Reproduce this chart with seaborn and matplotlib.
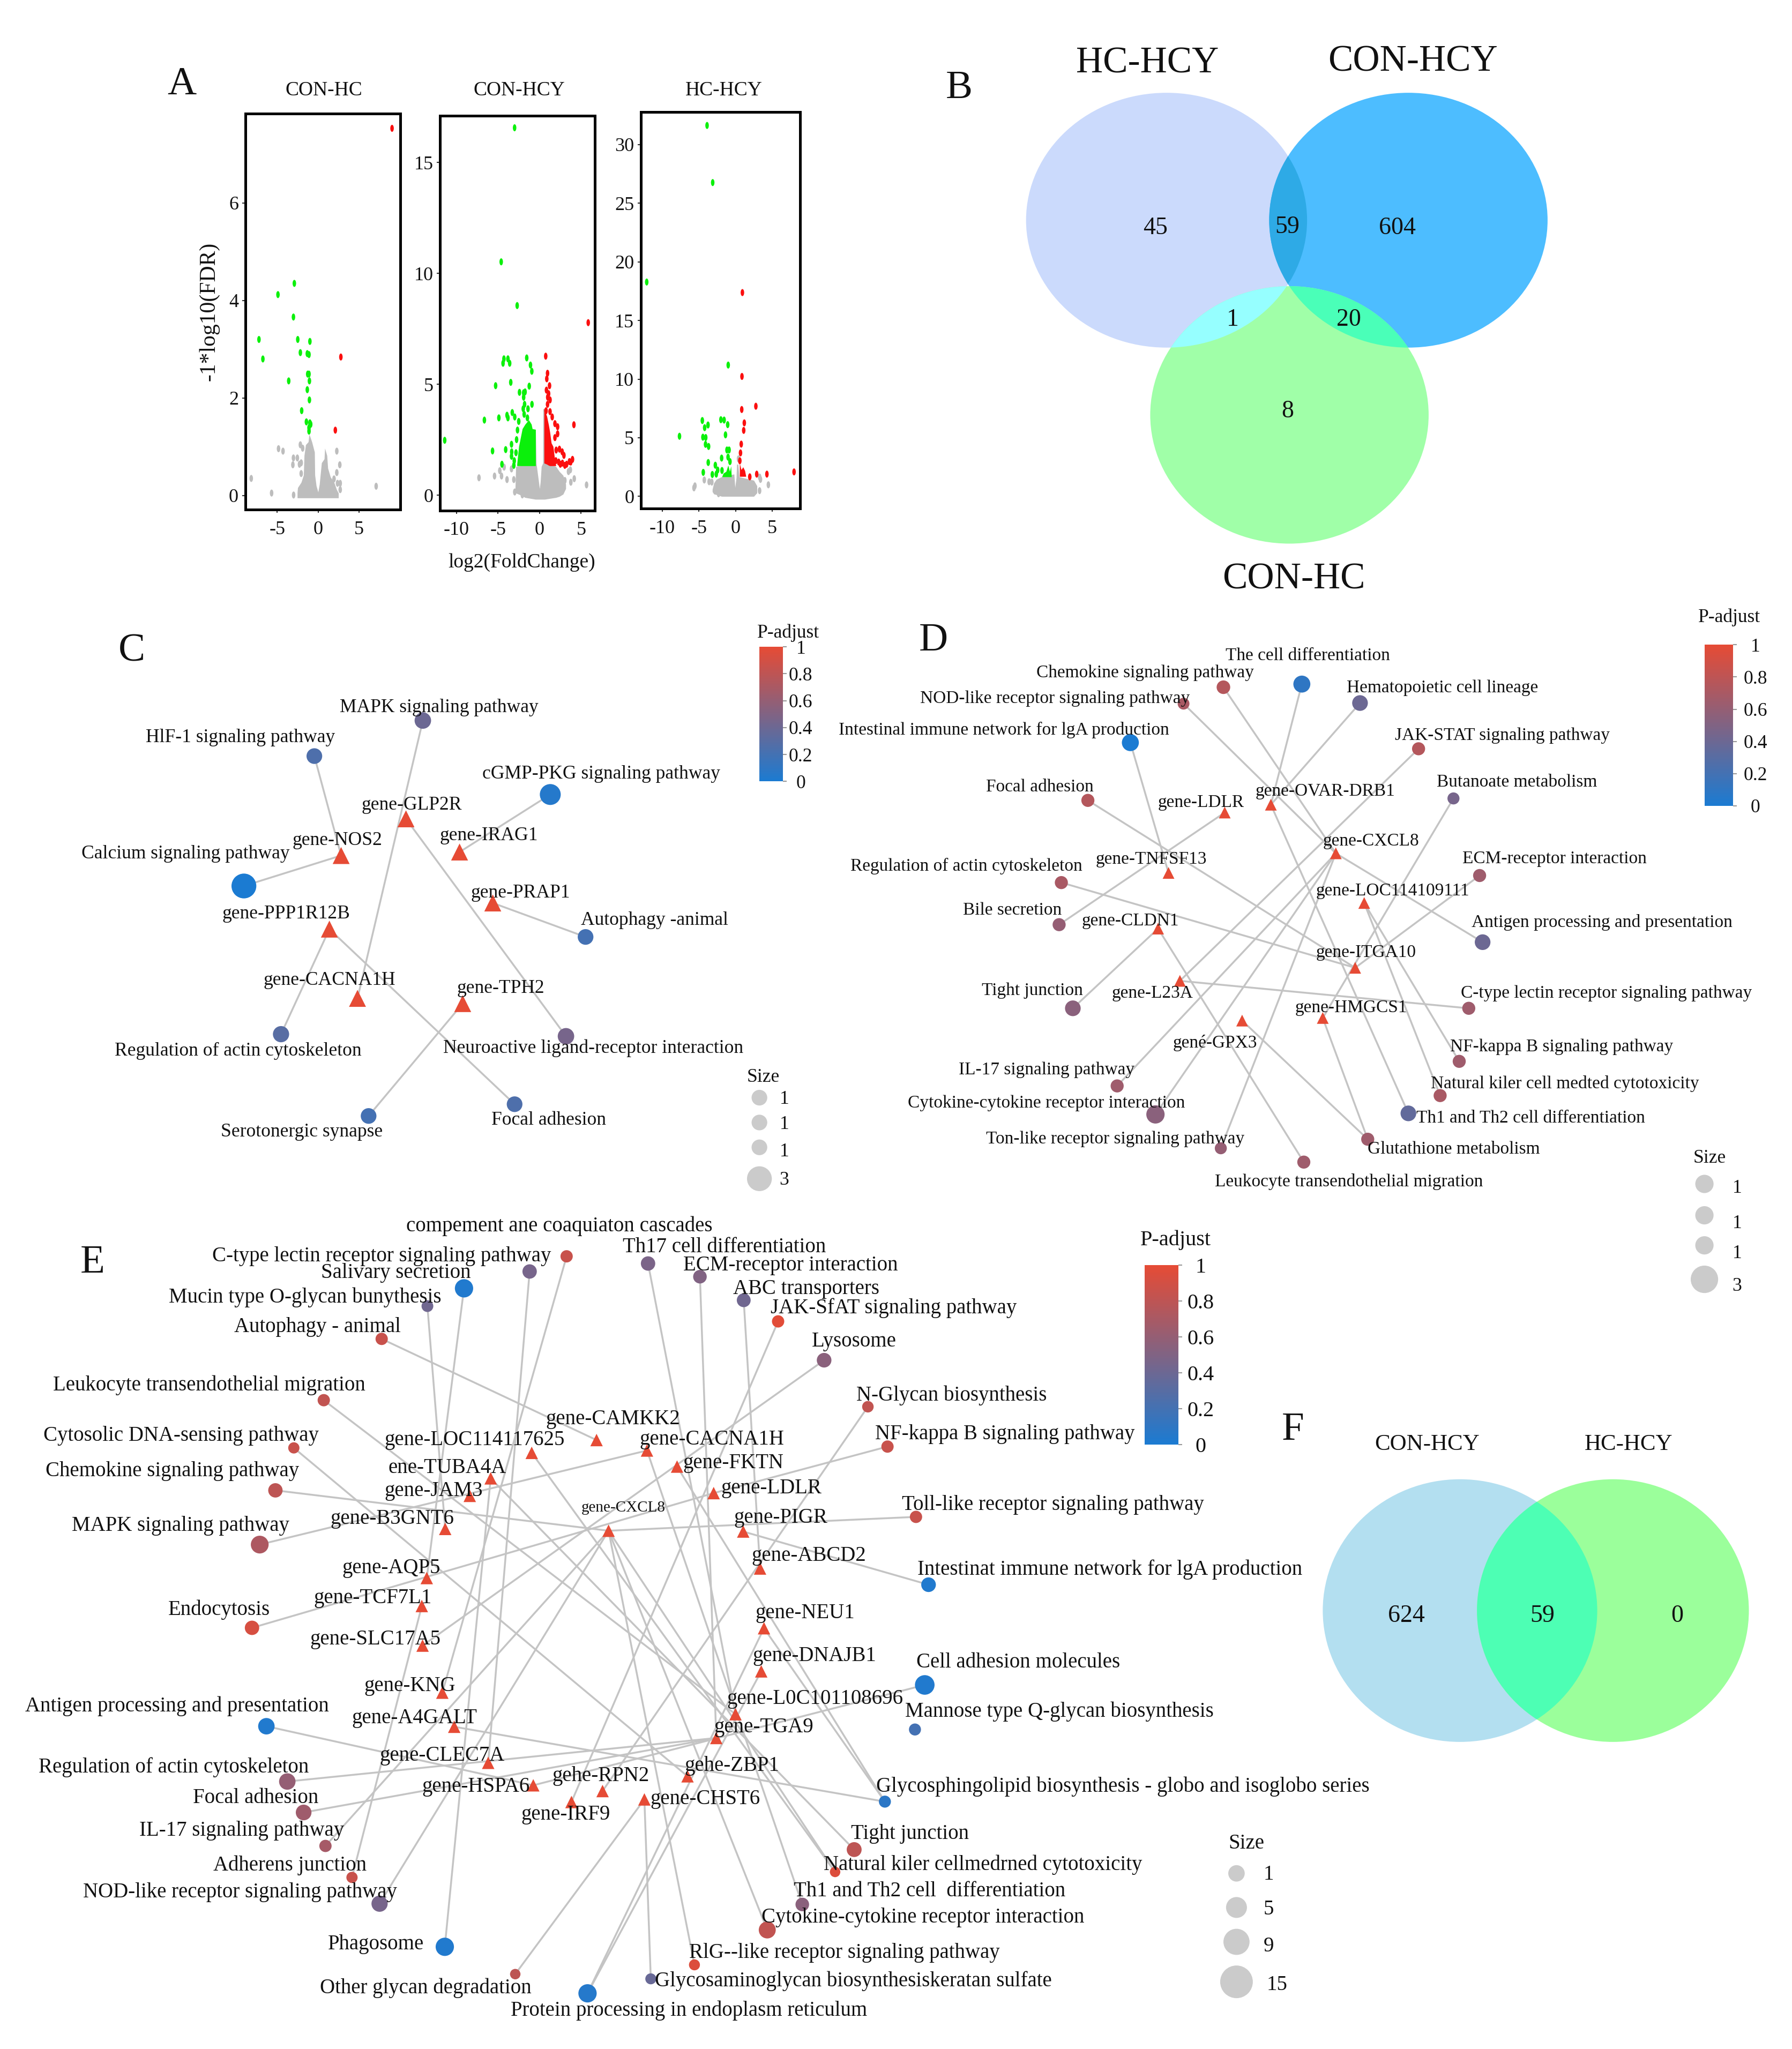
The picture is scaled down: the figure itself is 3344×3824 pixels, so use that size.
import numpy as np
import pandas as pd
import seaborn as sns
import matplotlib
matplotlib.use("Agg")
import matplotlib.pyplot as plt
from matplotlib.colors import LinearSegmentedColormap
from matplotlib.cm import ScalarMappable
from matplotlib.colors import Normalize
from matplotlib.patches import Ellipse
from matplotlib.path import Path
from matplotlib.transforms import Affine2D

# ---------------------------------------------------------------- panel A data
a_titles = ["CON-HC", "CON-HCY", "HC-HCY"]
a1_green_x = [-2.91,-4.92,-3.02,-7.25,-2.49,-1.0,-6.77,-2.17,-1.32,-1.11,-1.27,-1.11,-3.6,-1.06,-1.32,-1.06,-2.01,-1.43,-1.0,-0.9,-1.11,-1.11]
a1_green_y = [4.35,4.12,3.66,3.20,3.20,3.16,2.80,2.93,2.91,2.89,2.49,2.49,2.35,2.35,2.17,1.96,1.74,1.51,1.49,1.46,1.39,1.32]
a1_red_x = [9.08,2.80,2.12]
a1_red_y = [7.53,2.84,1.34]
a1_grey_x = [-8.2,-4.85,-4.3,-3.02,-2.54,-3.09,-2.28,-2.07,-2.07,-2.17,-1.89,-5.7,-3.0,7.13,2.3,2.67,2.3,2.39,2.72,2.72,1.96]
a1_grey_y = [.35,.96,.91,.77,.77,.63,.64,.67,.45,1.04,.97,.05,.01,.19,.91,.63,.47,.25,.25,.12,.34]
a1_cloud_x = [-2.55,-2.5,-2.07,-1.78,-1.7,-1.52,-1.2,-1.09,-.76,-.43,-.39,-.22,0,.17,.43,.76,.83,1.09,1.2,1.52,1.96,2.28,2.5]
a1_cloud_y = [.06,.16,.27,.42,.82,1.04,1.1,1.26,1.1,.89,.42,.2,.07,.23,.67,.75,.97,.82,.56,.38,.27,.12,.05]
a1_cloud_low = [-.05]*23

a2_green_x = [-3.0,-4.61,-2.69,-11.4,-4.28,-4.39,-3.8,-3.59,-1.54,-1.09,-.93,-5.28,-3.46,-1.24,-2.41,-1.91,-1.74,-1.91,-1.8,-1.96,-.91,-1.39,-1.85,-3.28,-2.98,-3.91,-3.8,-4.89,-6.63,-2.5,-1.46,-2.65,-2.76,-3.37,-4.07,-5.65,-3.35,-2.83,-3.37,-3.04,-4.52,-3.09]
a2_green_y = [16.56,10.52,8.55,2.48,6.15,5.95,6.15,5.95,6.19,5.87,5.59,4.94,5.09,4.92,4.64,4.62,4.66,4.42,4.1,3.9,4.1,3.9,3.65,3.73,3.53,3.61,3.49,3.49,3.39,3.33,3.49,2.94,2.51,2.3,2.06,2.0,1.96,1.92,1.76,1.56,1.4,1.35]
a2_red_x = [5.85,.74,.96,.87,1.2,.83,1.09,.98,1.26,.96,.78,1.26,1.52,1.85,2.17,2.17,1.85,4.13,2.0,2.39,2.72,2.93,2.5,3.04,3.59,3.96,1.96,2.3,2.75,3.25,3.75]
a2_red_y = [7.78,6.27,5.5,5.25,4.94,4.74,4.58,4.42,4.3,4.1,3.81,3.77,3.53,3.23,3.09,2.77,2.6,3.18,2.04,2.08,1.96,1.8,1.4,1.35,1.52,1.62,1.56,1.5,1.45,1.4,1.5]
a2_grey_x = [-7.28,-5.41,-4.78,-4.57,-4.26,-3.91,-3.37,-3.09,-2.98,-2.07,2.61,3.04,3.48,3.76,4.17,5.65,3.7]
a2_grey_y = [.79,.87,1.11,.87,1.27,.71,1.19,.71,.15,.02,.19,.67,1.07,.59,.75,.47,1.15]
a2_cloud_x = [-2.93,-2.85,-2.2,-1.74,-.48,-.4,-.1,0,.1,.22,.4,.42,.6,.62,1.96,2.39,2.83,3.15]
a2_cloud_y = [.27,1.3,1.35,1.35,2.97,1.45,.6,.3,.6,1.3,1.45,3.9,3.9,1.45,1.3,1.07,.9,.5]
a2_cloud_low = [.2,.1,0,-.1,-.18,-.18,-.18,-.18,-.18,-.18,-.18,-.18,-.18,-.18,-.1,-.05,.05,.3]
a2_gfill_x = [-2.72,-2.5,-2.07,-1.74,-1.3,-.98,-.87,-.48]
a2_gfill_y = [1.4,2.2,3.0,3.2,3.4,3.2,3.0,2.97]
a2_gfill_low = [1.33]*8
a2_rfill_x = [.54,.87,1.09,1.24,1.41,1.63,1.85,1.96]
a2_rfill_y = [3.9,3.57,3.17,2.85,2.36,2.2,1.56,1.35]
a2_rfill_low = [1.45,1.4,1.35,1.33,1.33,1.33,1.33,1.33]

a3_green_x = [-3.89,-3.12,-12.14,-1.0,-4.54,-4.22,-3.76,-2.0,-1.56,-1.07,-7.66,-4.46,-4.07,-4.1,-3.68,-1.37,-1.17,-.88,-1.02,-1.9,-.76,-3.73,-2.76,-2.44,-2.63,-4.41,-3.17,-1.85]
a3_green_y = [31.63,26.76,18.28,11.2,6.47,5.86,6.09,6.54,6.51,6.12,5.13,5.05,5.02,4.44,4.26,5.25,3.96,3.96,3.35,3.27,2.97,2.89,2.66,2.25,1.9,2.05,1.87,2.21]
a3_red_x = [.94,.88,2.78,.85,1.2,1.12,.78,.68,.59,1.95,2.9,4.29,8.0]
a3_red_y = [17.38,10.23,7.69,7.41,6.27,5.63,4.46,3.71,3.04,1.67,1.9,1.9,2.09]
a3_grey_x = [-5.68,-5.55,-4.27,-3.61,-3.24,.41,3.41,3.3,4.49,3.29,-2.32]
a3_grey_y = [.73,.9,1.4,1.25,1.22,3.2,1.45,1.65,.99,.49,.23]
a3_cloud_x = [-3.17,-2.96,-2.63,-1.9,-.2,-.07,.1,.17,.34,.5,2.5,2.93]
a3_cloud_y = [.6,1.14,1.45,1.67,1.9,.76,1.6,2.74,2.74,1.67,1.37,.9]
a3_cloud_low = [.4,.2,.15,0,0,0,0,0,0,0,0,.3]
a3_gfill_x = [-1.85,-1.66,-1.29,-1.02,-.8,-.63,-.56]
a3_gfill_y = [1.7,1.98,2.13,2.66,2.13,2.59,1.75]
a3_gfill_low = [1.67]*7
a3_rfill_x = [.55,.59,.78,1.02,1.27,1.41]
a3_rfill_y = [3.0,2.74,2.28,2.51,2.2,1.75]
a3_rfill_low = [1.7]*6

# ---------------------------------------------------------------- venn data
b_sets = ["HC-HCY", "CON-HCY", "CON-HC"]
b_counts = ["45", "59", "604", "1", "20", "8"]
f_sets = ["CON-HCY", "HC-HCY"]
f_counts = ["624", "59", "0"]

# ---------------------------------------------------------------- panel C data
c_terms = ["HlF-1 signaling pathway","MAPK signaling pathway","cGMP-PKG signaling pathway","Calcium signaling pathway","Autophagy -animal","Regulation of actin cytoskeleton","Neuroactive ligand-receptor interaction","Serotonergic synapse","Focal adhesion"]
c_x = [240.5,323.5,421,186.6,448,215,433,282,393.7]
c_y = [578.6,551.4,608,678,717,791.4,793,854,845]
c_padj = [.25,.4,.05,0,.2,.3,.45,.2,.25]
c_r = [6,6.3,8,9.5,6,6.2,6.3,6,6]
c_lx = [184,336,460,142,501,182,454,231,420]
c_ly = [563,540,591,652,703,803,801,865,856]
c_links = [["gene-NOS2"],["gene-CACNA1H"],["gene-IRAG1"],["gene-NOS2"],["gene-PRAP1"],["gene-PPP1R12B"],["gene-GLP2R"],["gene-TPH2"],["gene-PPP1R12B"]]
c_genes = ["gene-GLP2R","gene-NOS2","gene-IRAG1","gene-PRAP1","gene-PPP1R12B","gene-CACNA1H","gene-TPH2"]
c_gx = [310.6,261,351.6,377,252,273.5,354]
c_gy = [626.6,654.7,652,691,711,764,768]
c_glx = [315,258,374,398,219,252,383]
c_gly = [615,642,638,682,698,749,755]

# ---------------------------------------------------------------- panel D data
d_terms = ["Chemokine signaling pathway","The cell differentiation","Hematopoietic cell lineage","NOD-like receptor signaling pathway","Intestinal immune network for lgA production","JAK-STAT signaling pathway","Butanoate metabolism","Focal adhesion","ECM-receptor interaction","Regulation of actin cytoskeleton","Bile secretion","Antigen processing and presentation","Tight junction","C-type lectin receptor signaling pathway","NF-kappa B signaling pathway","IL-17 signaling pathway","Natural kiler cell medted cytotoxicity","Cytokine-cytokine receptor interaction","Th1 and Th2 cell differentiation","Glutathione metabolism","Ton-like receptor signaling pathway","Leukocyte transendothelial migration"]
d_x = [936,996,1040.5,905.5,864.8,1085.3,1112,832.3,1132,812,810.3,1134.3,820.8,1123.7,1116.4,854.7,1101.8,884,1077.5,1046.4,934,997.5]
d_y = [525.9,523.5,538,538.5,568.3,573,611,612.5,670,675.4,707.6,721,771.6,771.6,812.2,831,838.4,852.8,852,871.8,878.7,889.3]
d_padj = [.75,.1,.4,.7,0,.75,.45,.75,.65,.7,.6,.4,.55,.65,.65,.65,.7,.55,.35,.65,.6,.65]
d_r = [5.2,6.5,6,4.5,6.5,5,4.6,5,5,5,5,6,6,5,5,5,5,7,6,5,4.6,5]
d_lx = [876,1000.7,1103.6,807,768,1149.4,1160.4,795.7,1189.2,739.4,774.6,1225.8,789.7,1229,1194.7,800.7,1197.4,800.7,1171,1112.3,853.3,1032.2]
d_ly = [513.8,500.6,525,533.4,557.5,561.7,597.5,601,656,661.8,695.5,704.5,757,759,800,817.6,828,843,854.6,878.4,870.6,903]
d_links = [["gene-CXCL8"],["gene-OVAR-DRB1"],["gene-OVAR-DRB1"],["gene-CXCL8"],["gene-TNFSF13"],["gene-L23A"],["gene-HMGCS1"],["gene-ITGA10"],["gene-ITGA10"],["gene-ITGA10"],["gene-LDLR"],["gene-CXCL8"],["gene-CLDN1"],["gene-L23A"],["gene-LOC114109111"],["gene-CXCL8"],["gene-LOC114109111"],["gene-CXCL8"],["gene-OVAR-DRB1"],["gené-GPX3","gene-HMGCS1"],["gene-CXCL8"],["gene-CLDN1"]]
d_genes = ["gene-LDLR","gene-OVAR-DRB1","gene-CXCL8","gene-TNFSF13","gene-LOC114109111","gene-CLDN1","gene-ITGA10","gene-L23A","gene-HMGCS1","gené-GPX3"]
d_gx = [937,972.3,1022,894,1043.7,886,1036.8,902.7,1012,950.3]
d_gy = [621.8,615.8,653,668,691,710.6,740.6,750.6,779,781]
d_glx = [918.8,1014,1049,880.8,1065.6,864.8,1045,881.7,1033.6,929.7]
d_gly = [612.8,604.4,642.3,656.4,680.5,703.6,727.7,759,769.8,797]

# ---------------------------------------------------------------- panel E data
e_terms = ["compement ane coaquiaton cascades","C-type lectin receptor signaling pathway","Salivary secretion","Mucin type O-glycan bunythesis","Autophagy - animal","Leukocyte transendothelial migration","Cytosolic DNA-sensing pathway","Chemokine signaling pathway","MAPK signaling pathway","Endocytosis","Antigen processing and presentation","Regulation of actin cytoskeleton","Focal adhesion","IL-17 signaling pathway","Adherens junction","NOD-like receptor signaling pathway","Phagosome","Other glycan degradation","Protein processing in endoplasm reticulum","Glycosaminoglycan biosynthesiskeratan sulfate","RlG--like receptor signaling pathway","Cytokine-cytokine receptor interaction","Th1 and Th2 cell  differentiation","Natural kiler cellmedrned cytotoxicity","Tight junction","Glycosphingolipid biosynthesis - globo and isoglobo series","Mannose type Q-glycan biosynthesis","Cell adhesion molecules","Intestinat immune network for lgA production","Toll-like receptor signaling pathway","NF-kappa B signaling pathway","N-Glycan biosynthesis","Lysosome","JAK-SfAT signaling pathway","ABC transporters","ECM-receptor interaction","Th17 cell differentiation"]
e_x = [433.5,405.2,355,327,292,247.7,224.8,210.7,198.7,192.8,203.8,219.8,232.3,249,269.3,290.4,340.3,394.2,449.5,497.9,531.3,587,613.8,638.9,653.5,677,700,707.5,710.4,700.8,679,664,630.5,595.3,569,535.5,495.8]
e_y = [961.4,973,985.9,999.5,1024.6,1071.5,1108,1140.5,1182,1245.7,1321,1363.3,1387,1412.6,1436.7,1456.8,1489.8,1510.7,1525.4,1514.3,1503.6,1476.9,1457.4,1432.5,1415.4,1378.7,1323.5,1289.4,1212.7,1160.8,1107,1076.5,1040.9,1011.2,995,977,966.9]
e_padj = [.85,.45,.03,.42,.85,.82,.85,.8,.72,.92,.03,.6,.65,.68,.85,.45,.03,.8,.05,.38,.95,.82,.55,.95,.8,.08,.2,.03,.03,.85,.85,.82,.55,.98,.42,.5,.47]
e_r = [4.7,5.5,7,4.5,4.7,4.7,4.3,5.5,6.8,5.5,6.3,6.3,6,4.7,4.3,6.2,7,4,7,4.2,4.2,6.5,5.2,4,5.7,4.6,4.6,7.5,5.6,4.7,4.7,4.4,5.6,4.7,5.3,5.2,5.5]
e_lx = [428,292,303,233.3,243,160,138.5,132,138,167.7,135.4,132.8,195.6,185,222,183.7,287.8,325.8,527,652.7,646,706,711,751.8,696.2,859,810.4,779,849.3,805.4,769,728,653.5,683.6,617,605,554]
e_ly = [937,960,972.7,991.5,1014,1058.5,1097.4,1124.4,1166,1230.6,1304.3,1351,1374.3,1399.5,1426.2,1446.5,1486.3,1520,1537,1514.5,1493,1465.8,1446,1425.6,1402,1365.6,1308.5,1270.8,1199.7,1150,1096,1066.4,1025,999.5,984.8,967,952.8]
e_links = [["gene-KNG"],["gene-CLEC7A"],["gene-AQP5"],["gene-B3GNT6"],["gene-CAMKK2"],["gene-L0C101108696"],["gehe-ZBP1"],["gene-CXCL8"],["gene-CACNA1H"],["gene-LDLR"],["gene-HSPA6"],["gene-TGA9"],["gene-TGA9"],["gene-CXCL8"],["gene-TCF7L1"],["gene-CXCL8"],["ene-TUBA4A"],["gene-CHST6"],["gene-DNAJB1","gene-NEU1"],["gene-CHST6"],["gene-CXCL8"],["gene-CXCL8"],["gene-CACNA1H"],["gene-CXCL8","gene-LOC114117625"],["ene-TUBA4A"],["gene-A4GALT","gene-NEU1","gene-FKTN"],[],["gene-HSPA6"],["gene-PIGR"],["gene-CXCL8"],["gene-LDLR"],["gehe-RPN2"],["gene-SLC17A5"],["gene-IRF9"],["gene-ABCD2"],["gene-TGA9"],["gene-L0C101108696"]]
e_genes = ["gene-CAMKK2","gene-LOC114117625","gene-CACNA1H","gene-FKTN","ene-TUBA4A","gene-JAM3","gene-LDLR","gene-B3GNT6","gene-CXCL8","gene-PIGR","gene-ABCD2","gene-AQP5","gene-TCF7L1","gene-SLC17A5","gene-NEU1","gene-DNAJB1","gene-KNG","gene-L0C101108696","gene-A4GALT","gene-TGA9","gene-CLEC7A","gene-HSPA6","gehe-ZBP1","gehe-RPN2","gene-IRF9","gene-CHST6"]
e_gx = [456.4,406.8,495,518,375.4,359.4,546,340.6,465.6,568.6,581.5,326.5,322.7,323.3,584.5,582.4,338.4,562.7,347.5,548,373.5,408,526,461,437.2,493]
e_gy = [1102,1111.8,1110,1122.3,1131.3,1144.7,1142.6,1170,1171.4,1172,1200.3,1207.6,1229,1259.3,1246,1279,1295.3,1311.8,1321.4,1330,1349,1366.2,1359.3,1370.6,1379,1377]
e_glx = [469,363,544.7,561,342,331.8,590,300,477,597.4,618.8,299.5,285,287.2,616,623,313.6,623.4,317,584.5,338.4,364,559.8,459.8,432.8,539.7]
e_gly = [1084.8,1100.7,1100,1118.3,1121.9,1139.4,1137.6,1161,1153,1160,1189,1198.6,1221.7,1253,1233,1266,1288.6,1298.6,1313.3,1320.4,1342,1366,1349.7,1357.6,1387.3,1375.4]

# legends
cbar_ticks = [0, .2, .4, .6, .8, 1]
cbar_ticklabels = ["0", "0.2", "0.4", "0.6", "0.8", "1"]
c_size_labels = ["1", "1", "1", "3"]
d_size_labels = ["1", "1", "1", "3"]
e_size_labels = ["1", "5", "9", "15"]

# ---------------------------------------------------------------- style
sns.set_theme(style="white")
plt.rcParams["font.family"] = ["Liberation Serif", "DejaVu Serif"]
plt.rcParams["axes.unicode_minus"] = False

W, H = 1371.0, 1568.0     # layout units: the canvas as a 1371 x 1568 grid
fig = plt.figure(figsize=(33.44, 38.24), dpi=100, facecolor="white")
ax = fig.add_axes([0, 0, 1, 1])
ax.set_axis_off()

RED, BLUE = "#E64B35", "#1B7BD2"
padj_cmap = LinearSegmentedColormap.from_list("padj", [BLUE, RED])
EDGE = "#c4c4c4"
LEG_GREY = "#cbcbcb"
INK = "#111111"
R2S = 12.33  # radius in layout units -> scatter area


def box(x0, y0, x1, y1):
    return [x0 / W, 1 - y1 / H, (x1 - x0) / W, (y1 - y0) / H]


def label(x, y, s, fs, **kw):
    ax.text(x, y + fs * 0.05, s, fontsize=fs, ha="center", va="center", color=INK, zorder=5, **kw)


def network(terms, tx, ty, padj, r, lx, ly, links, genes, gx, gy, glx, gly, fs, tri, small=()):
    pos = dict(zip(genes, zip(gx, gy)))
    for x, y, ls in zip(tx, ty, links):
        for g in ls:
            ax.plot([x, pos[g][0]], [y, pos[g][1]], color=EDGE, lw=2.5, zorder=1, solid_capstyle="round")
    df = pd.DataFrame({"x": tx, "y": ty, "p": padj, "a": np.array(r) ** 2})
    sns.scatterplot(data=df, x="x", y="y", hue="p", palette=padj_cmap, hue_norm=(0, 1), size="a",
                    sizes=(0, R2S * 1000), size_norm=(0, 1000), legend=False, linewidth=0,
                    edgecolor="none", ax=ax, zorder=3)
    gdf = pd.DataFrame({"x": gx, "y": gy})
    sns.scatterplot(data=gdf, x="x", y="y", marker="^", color=RED, s=tri, linewidth=0,
                    edgecolor="none", legend=False, ax=ax, zorder=3)
    for t, x, y in list(zip(terms, lx, ly)) + list(zip(genes, glx, gly)):
        label(x, y, t, 21 if t in small else fs)


def colorbar(x0, y0, x1, y1, fs, title_xy, pad):
    cax = fig.add_axes(box(x0, y0, x1, y1))
    cb = fig.colorbar(ScalarMappable(Normalize(0, 1), padj_cmap), cax=cax, ticks=cbar_ticks)
    cb.ax.set_yticklabels(cbar_ticklabels, fontsize=fs, color=INK, ha="center")
    cb.ax.tick_params(right=True, length=5, width=1.5, color="#999999", pad=pad)
    cb.outline.set_visible(False)
    label(title_xy[0], title_xy[1], "P-adjust", fs)


def size_legend(xs, ys, rs, lxs, lys, labels, fs, title_xy):
    df = pd.DataFrame({"x": xs, "y": ys, "a": np.array(rs) ** 2})
    sns.scatterplot(data=df, x="x", y="y", color=LEG_GREY, size="a", sizes=(0, R2S * 1000),
                    size_norm=(0, 1000), legend=False, linewidth=0, edgecolor="none", ax=ax, zorder=3)
    for x, y, t in zip(lxs, lys, labels):
        label(x, y, t, fs)
    label(title_xy[0], title_xy[1], "Size", fs)


def lens(e1, e2, color, z):
    p = Ellipse(e1[:2], e1[2], e1[3], facecolor=color, edgecolor="none", zorder=z)
    ax.add_patch(p)
    p.set_clip_path(Ellipse(e2[:2], e2[2], e2[3], transform=ax.transData))


# ---------------------------------------------------------------- panel A
a_boxes = [(187.6, 87, 306.3, 390), (336.6, 88.6, 455, 390.6), (490.2, 85.5, 612.2, 389.3)]
a_xlim = [(-8.94, 10.1), (-11.97, 6.63), (-12.96, 8.84)]
a_ylim = [(-.29, 7.83), (-.68, 17.1), (-1.05, 32.8)]
a_xticks = [[-5, 0, 5], [-10, -5, 0, 5], [-10, -5, 0, 5]]
a_yticks = [[0, 2, 4, 6], [0, 5, 10, 15], [0, 5, 10, 15, 20, 25, 30]]
a_title_x = [247.6, 397.3, 553.8]
a_sets = [
    (a1_green_x, a1_green_y, a1_red_x, a1_red_y, a1_grey_x, a1_grey_y, (a1_cloud_x, a1_cloud_low, a1_cloud_y), None, None),
    (a2_green_x, a2_green_y, a2_red_x, a2_red_y, a2_grey_x, a2_grey_y, (a2_cloud_x, a2_cloud_low, a2_cloud_y),
     (a2_gfill_x, a2_gfill_low, a2_gfill_y), (a2_rfill_x, a2_rfill_low, a2_rfill_y)),
    (a3_green_x, a3_green_y, a3_red_x, a3_red_y, a3_grey_x, a3_grey_y, (a3_cloud_x, a3_cloud_low, a3_cloud_y),
     (a3_gfill_x, a3_gfill_low, a3_gfill_y), (a3_rfill_x, a3_rfill_low, a3_rfill_y)),
]
oval = Path.unit_circle().transformed(Affine2D().scale(0.5, 1))
GREEN, VRED, VGREY = "#0bf00b", "#fb0f0f", "#bdbdbd"
for i, (gx_, gy_, rx_, ry_, kx_, ky_, cloud, gf, rf) in enumerate(a_sets):
    a = fig.add_axes(box(*a_boxes[i]))
    a.fill_between(*cloud, color=VGREY, lw=0, zorder=1)
    if gf:
        a.fill_between(*gf, color=GREEN, lw=0, zorder=2)
    if rf:
        a.fill_between(*rf, color=VRED, lw=0, zorder=2)
    for xs, ys, c in ((kx_, ky_, VGREY), (gx_, gy_, GREEN), (rx_, ry_, VRED)):
        sns.scatterplot(x=xs, y=ys, color=c, marker=oval, s=90, linewidth=0, edgecolor="none", ax=a, zorder=3, legend=False)
    a.set_xlim(a_xlim[i])
    a.set_ylim(a_ylim[i])
    a.set_xticks(a_xticks[i])
    a.set_yticks(a_yticks[i])
    a.tick_params(bottom=True, left=True, length=4, width=1.5, color="#333333", labelsize=26, labelcolor=INK, pad=5)
    a.tick_params(axis="x", pad=11)
    for s in a.spines.values():
        s.set_visible(True)
        s.set_color("black")
        s.set_linewidth(3.6)
    a.set_facecolor("none")
    label(a_title_x[i], 67.7, a_titles[i], 27)
label(160, 237, "-1*log10(FDR)", 30, rotation=90)
label(399, 429, "log2(FoldChange)", 27)

# ---------------------------------------------------------------- panel B venn
b_ell = [(892.5, 168.5, 215, 195), (1077.5, 168.5, 213, 195), (986.5, 317.5, 213, 197)]
for (cx, cy, w, h), c in zip(b_ell, ["#cbdafc", "#4dbdff", "#a0ffa8"]):
    ax.add_patch(Ellipse((cx, cy), w, h, facecolor=c, edgecolor="none", zorder=0.2))
lens(b_ell[0], b_ell[1], "#2eaae6", 0.3)
lens(b_ell[0], b_ell[2], "#96ffff", 0.3)
lens(b_ell[1], b_ell[2], "#4affb8", 0.3)
for t, xy in zip(b_sets, [(878, 46), (1081, 45), (990, 441)]):
    label(xy[0], xy[1], t, 50)
for t, xy in zip(b_counts, [(884, 173), (985, 172), (1069, 173), (943, 243), (1032, 243), (985, 313)]):
    label(xy[0], xy[1], t, 33)

# ---------------------------------------------------------------- panel F venn
f_ell = [(1117, 1232.5, 210, 201), (1234, 1232.5, 208, 201)]
for (cx, cy, w, h), c in zip(f_ell, ["#b3dff0", "#9bff9b"]):
    ax.add_patch(Ellipse((cx, cy), w, h, facecolor=c, edgecolor="none", zorder=0.2))
lens(f_ell[0], f_ell[1], "#4dffb4", 0.3)
for t, xy in zip(f_sets, [(1092, 1104), (1246, 1104)]):
    label(xy[0], xy[1], t, 31)
for t, xy in zip(f_counts, [(1076, 1235), (1180, 1235), (1283, 1235)]):
    label(xy[0], xy[1], t, 33)

# ---------------------------------------------------------------- networks
network(c_terms, c_x, c_y, c_padj, c_r, c_lx, c_ly, c_links, c_genes, c_gx, c_gy, c_glx, c_gly, 25.6, 520)
network(d_terms, d_x, d_y, d_padj, d_r, d_lx, d_ly, d_links, d_genes, d_gx, d_gy, d_glx, d_gly, 24, 250)
network(e_terms, e_x, e_y, e_padj, e_r, e_lx, e_ly, e_links, e_genes, e_gx, e_gy, e_glx, e_gly, 28, 280, small=("gene-CXCL8",))

colorbar(581, 495, 599, 598, 25.6, (603, 483), 19)
colorbar(1304, 493.4, 1326, 616.7, 25.6, (1323, 471), 25)
colorbar(875.7, 968, 901.6, 1105.5, 29, (899.5, 947.6), 25)

size_legend([581, 581, 581, 581], [840, 859, 878, 902], [6, 6, 6, 9.5], [600, 600, 600, 600], [840, 859, 880, 902],
            c_size_labels, 25.6, (584, 823))
size_legend([1304, 1304, 1304, 1304], [906, 930, 953, 979], [7, 7, 7, 10.5], [1329, 1329, 1329, 1329], [908, 935, 958, 983],
            d_size_labels, 25.6, (1308, 885))
size_legend([946, 946, 946, 946], [1433.6, 1459.7, 1486, 1516.6], [6.3, 8, 10, 12.5], [970.7, 970.7, 970.7, 977], [1433.3, 1459.7, 1488, 1517.6],
            e_size_labels, 28, (953.5, 1409.3))

for t, xy in zip("ABCDEF", [(139, 62), (734, 65), (101, 496), (714, 488), (71, 964), (989, 1092)]):
    label(xy[0], xy[1], t, 54)

ax.set_xlim(0, W)
ax.set_ylim(H, 0)
ax.set_xlabel("")
ax.set_ylabel("")
fig.savefig("out.png", dpi=100, facecolor="white")
